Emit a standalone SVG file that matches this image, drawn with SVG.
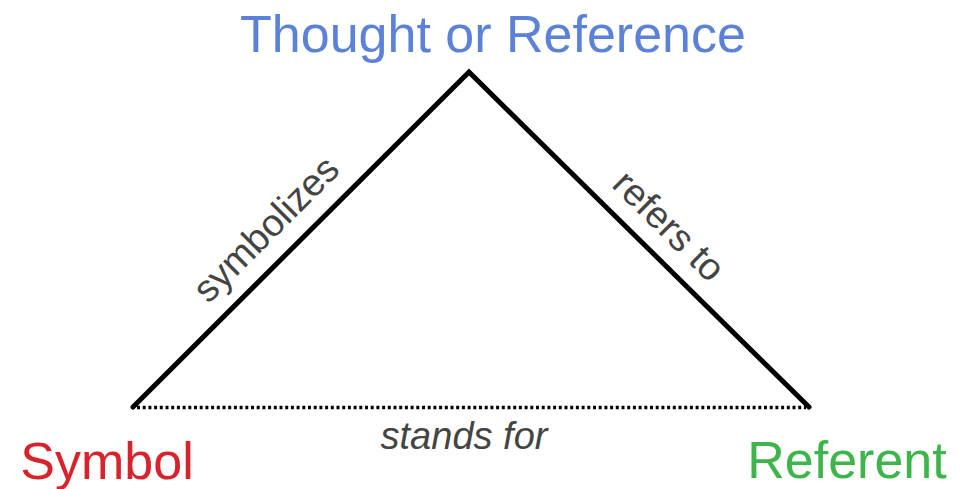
<svg xmlns="http://www.w3.org/2000/svg" width="975" height="489" viewBox="0 0 975 489">
<style>
.lbl{font-family:"Liberation Sans",Arial,sans-serif}
.big{font-size:52px}
.rel{font-size:38px;fill:#444}
.edge{stroke:#000;stroke-width:5;stroke-linecap:round;fill:none}
.dot{stroke:#000;stroke-width:3.5;stroke-dasharray:3 2.7;fill:none}
</style>
<rect width="975" height="489" fill="#fff"/>
<g id="connectors">
<path class="edge" d="M133,407 L469,72 L809,407"/>
<line class="dot" x1="137" y1="407.5" x2="806" y2="407.5"/>
<text class="lbl rel" transform="translate(275,238) rotate(-45)" text-anchor="middle">symbolizes</text>
<text class="lbl rel" transform="translate(660,235) rotate(44.6)" text-anchor="middle">refers to</text>
<text class="lbl rel" x="464" y="449" text-anchor="middle" font-style="italic">stands for</text>
</g>
<g id="thought"><text class="lbl big" x="493" y="52" text-anchor="middle" fill="#5b82d8" font-size="53">Thought or Reference</text></g>
<g id="symbol"><text class="lbl big" x="107" y="479" text-anchor="middle" fill="#d8222c">Symbol</text></g>
<g id="referent"><text class="lbl big" x="847" y="478" text-anchor="middle" fill="#3db54a" font-size="53">Referent</text></g>
</svg>
